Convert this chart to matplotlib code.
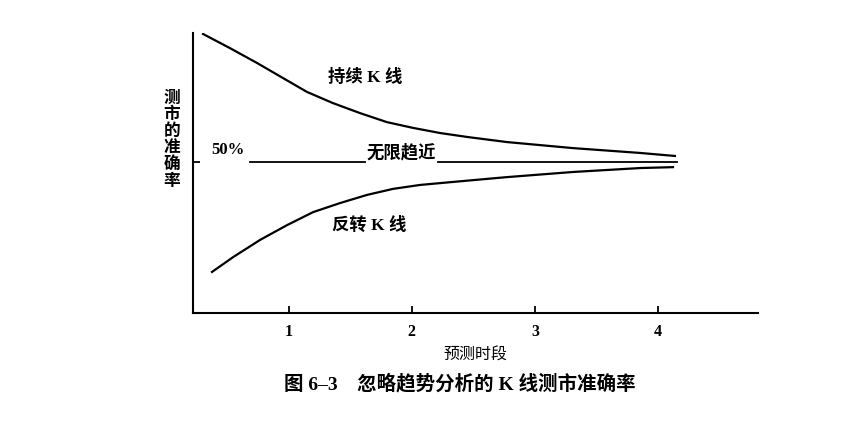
import matplotlib
matplotlib.use("Agg")
import matplotlib.pyplot as plt

plt.rcParams['font.family'] = ['Liberation Serif', 'Noto Sans CJK SC', 'DejaVu Sans']

# upper curve: 持续 K 线
cont_x = [0.306, 0.525, 0.744, 0.955, 1.150, 1.361, 1.580, 1.799, 2.010,
          2.230, 2.449, 2.774, 3.310, 3.854, 4.137]
cont_y = [92.4, 87.7, 82.8, 77.8, 73.2, 69.5, 66.2, 63.2, 61.3,
          59.6, 58.3, 56.6, 54.6, 53.0, 52.0]

# lower curve: 反转 K 线
rev_x = [0.379, 0.550, 0.769, 0.988, 1.199, 1.418, 1.637, 1.848, 2.067,
         2.335, 2.774, 3.310, 3.854, 4.121]
rev_y = [13.6, 18.5, 24.2, 29.1, 33.4, 36.4, 39.1, 41.1, 42.4,
         43.4, 45.0, 46.7, 48.0, 48.3]

# 50% reference line, broken around the label text
half_level = 50
half_segments = [(0.687, 1.621), (2.214, 4.153)]

x_ticks = [1, 2, 3, 4]
x_tick_labels = ['1', '2', '3', '4']

fig = plt.figure(figsize=(8.43, 4.21), dpi=100)
ax = fig.add_axes([0.229, 0.2565, 0.670, 0.665])

ax.plot(cont_x, cont_y, color='black', lw=1.6)
ax.plot(rev_x, rev_y, color='black', lw=1.6)
for x0, x1 in half_segments:
    ax.plot([x0, x1], [half_level, half_level], color='black', lw=1.3)

ax.set_xlim(0.225, 4.81)
ax.set_ylim(0, 92.7)
ax.spines['top'].set_visible(False)
ax.spines['right'].set_visible(False)
ax.spines['left'].set_linewidth(1.5)
ax.spines['bottom'].set_linewidth(1.5)

ax.set_xticks(x_ticks)
ax.set_xticklabels(x_tick_labels, fontsize=11.5, fontweight='bold')
ax.set_yticks([half_level])
ax.set_yticklabels([''])
ax.tick_params(axis='both', direction='in', length=5, width=1.3, pad=8)

cjk = ['Liberation Serif', 'Noto Sans CJK SC']
ax.text(1.62, 78.1, '持续 K 线', ha='center', va='center', fontsize=12.5,
        family=cjk, fontweight='bold')
ax.text(1.654, 29.1, '反转 K 线', ha='center', va='center', fontsize=12.5,
        family=cjk, fontweight='bold')
ax.text(0.51, 54.0, '50%', ha='center', va='center', fontsize=12,
        family=cjk, fontweight='bold')
ax.text(1.918, 53.0, '无限趋近', ha='center', va='center', fontsize=12.5,
        family=cjk, fontweight='bold')

fig.text(0.204, 0.667, '测\n市\n的\n准\n确\n率', ha='center', va='center',
         fontsize=12, family=cjk, fontweight='bold', linespacing=1.05)
fig.text(0.5635, 0.157, '预测时段', ha='center', va='center', fontsize=11.5,
         family=cjk, fontweight='medium')
fig.text(0.546, 0.090, '图 6–3　忽略趋势分析的 K 线测市准确率', ha='center',
         va='center', fontsize=14, family=cjk, fontweight='bold')

fig.savefig('out.png', dpi=100)
